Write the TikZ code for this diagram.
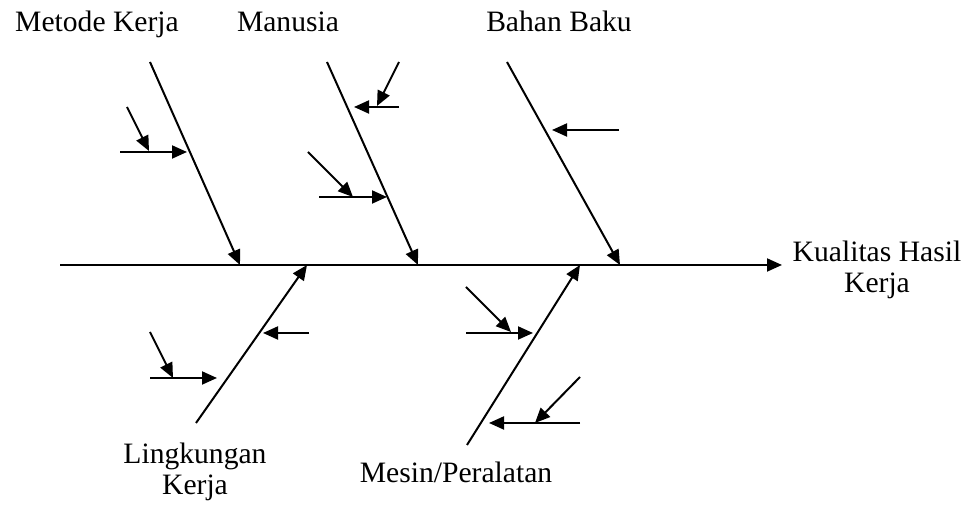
\documentclass[tikz,border=0pt]{standalone}
\usepackage{fontspec}
\setmainfont{Liberation Serif}
\usetikzlibrary{arrows.meta}
\definecolor{bonecolor}{HTML}{000000}
\tikzset{
  bone/.style={draw=bonecolor,line width=1pt,-{Triangle[length=7.5pt,width=6.5pt]}},
  lbl/.style={font=\fontsize{14.8pt}{15.5pt}\selectfont,inner sep=0pt,text=bonecolor,align=center}
}

\begin{document}
\begin{tikzpicture}[x=0.5pt,y=-0.5pt]
  \useasboundingbox (0,0) rectangle (966,506);

  % spine
  \coordinate (tail) at (60,265);
  \coordinate (head) at (782,265);
  \node[lbl] (effect) at (877,270) {Kualitas Hasil\\Kerja};

  % Metode Kerja
  \coordinate (mk0) at (150,62);
  \coordinate (mk1) at (240,265);
  \coordinate (mk2) at (120,152);
  \coordinate (mk3) at (187,152);
  \coordinate (mk4) at (127,107);
  \coordinate (mk5) at (149,151);
  \node[lbl,anchor=base] (metode) at (97,32) {Metode Kerja};

  % Manusia
  \coordinate (mn0) at (327,62);
  \coordinate (mn1) at (418,265);
  \coordinate (mn2) at (399,107);
  \coordinate (mn3) at (354,107);
  \coordinate (mn4) at (399,62);
  \coordinate (mn5) at (377,106);
  \coordinate (mn6) at (319,197);
  \coordinate (mn7) at (387,197);
  \coordinate (mn8) at (308,152);
  \coordinate (mn9) at (353,197);
  \node[lbl,anchor=base] (manusia) at (288,32) {Manusia};

  % Bahan Baku
  \coordinate (bb0) at (507,62);
  \coordinate (bb1) at (620,265);
  \coordinate (bb2) at (619,130);
  \coordinate (bb3) at (552,130);
  \node[lbl,anchor=base] (bahan) at (559,32) {Bahan Baku};

  % Lingkungan Kerja
  \coordinate (lk0) at (196,423);
  \coordinate (lk1) at (307,265);
  \coordinate (lk2) at (309,333);
  \coordinate (lk3) at (263,333);
  \coordinate (lk4) at (150,378);
  \coordinate (lk5) at (217,378);
  \coordinate (lk6) at (150,332);
  \coordinate (lk7) at (173,378);
  \node[lbl] (lingkungan) at (195,472) {Lingkungan\\Kerja};

  % Mesin/Peralatan
  \coordinate (mp0) at (467,445);
  \coordinate (mp1) at (580,265);
  \coordinate (mp2) at (466,333);
  \coordinate (mp3) at (533,333);
  \coordinate (mp4) at (466,287);
  \coordinate (mp5) at (511,332);
  \coordinate (mp6) at (580,423);
  \coordinate (mp7) at (489,423);
  \coordinate (mp8) at (580,377);
  \coordinate (mp9) at (535,423);
  \node[lbl,anchor=base] (mesin) at (456,483) {Mesin/Peralatan};

  \draw[bone] (tail) -- (head);
  \draw[bone] (mk0) -- (mk1);
  \draw[bone] (mk2) -- (mk3);
  \draw[bone] (mk4) -- (mk5);
  \draw[bone] (mn0) -- (mn1);
  \draw[bone] (mn2) -- (mn3);
  \draw[bone] (mn4) -- (mn5);
  \draw[bone] (mn6) -- (mn7);
  \draw[bone] (mn8) -- (mn9);
  \draw[bone] (bb0) -- (bb1);
  \draw[bone] (bb2) -- (bb3);
  \draw[bone] (lk0) -- (lk1);
  \draw[bone] (lk2) -- (lk3);
  \draw[bone] (lk4) -- (lk5);
  \draw[bone] (lk6) -- (lk7);
  \draw[bone] (mp0) -- (mp1);
  \draw[bone] (mp2) -- (mp3);
  \draw[bone] (mp4) -- (mp5);
  \draw[bone] (mp6) -- (mp7);
  \draw[bone] (mp8) -- (mp9);
\end{tikzpicture}
\end{document}
